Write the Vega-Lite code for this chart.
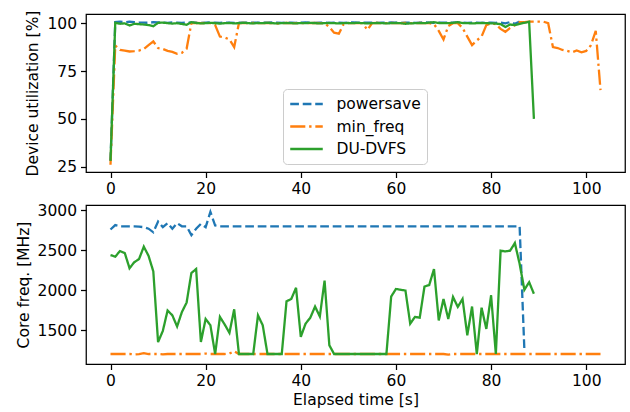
{
  "$schema": "https://vega.github.io/schema/vega-lite/v6.json",
  "padding": {"left": 15, "top": 9, "right": 4, "bottom": 5},
  "spacing": 33,
  "bounds": "flush",
  "datasets": {
    "util": [
      {"t":0,"powersave":28,"min_freq":26,"DU-DVFS":28},
      {"t":1,"powersave":100.6,"min_freq":88.3,"DU-DVFS":100.2},
      {"t":2,"powersave":100.8,"min_freq":86,"DU-DVFS":99.7},
      {"t":3,"powersave":100.5,"min_freq":85.7,"DU-DVFS":99.9},
      {"t":4,"powersave":100.8,"min_freq":85.2,"DU-DVFS":98.8},
      {"t":5,"powersave":100.6,"min_freq":85.4,"DU-DVFS":99.7},
      {"t":6,"powersave":100.4,"min_freq":85.7,"DU-DVFS":99.5},
      {"t":7,"powersave":100.3,"min_freq":86.5,"DU-DVFS":99.3},
      {"t":8,"powersave":100.2,"min_freq":88.5,"DU-DVFS":99},
      {"t":9,"powersave":100.5,"min_freq":90.5,"DU-DVFS":98.4},
      {"t":10,"powersave":100.4,"min_freq":87,"DU-DVFS":100.2},
      {"t":11,"powersave":100.3,"min_freq":86.5,"DU-DVFS":100.3},
      {"t":12,"powersave":100.2,"min_freq":85.5,"DU-DVFS":100},
      {"t":13,"powersave":100.4,"min_freq":85,"DU-DVFS":99.8},
      {"t":14,"powersave":100.3,"min_freq":84,"DU-DVFS":100},
      {"t":15,"powersave":100.2,"min_freq":84.5,"DU-DVFS":99.6},
      {"t":16,"powersave":100.3,"min_freq":86.6,"DU-DVFS":99.2},
      {"t":17,"powersave":100.4,"min_freq":100,"DU-DVFS":100.5},
      {"t":18,"powersave":100.3,"min_freq":100.2,"DU-DVFS":100.1},
      {"t":19,"powersave":100.2,"min_freq":100,"DU-DVFS":99.9},
      {"t":20,"powersave":100.3,"min_freq":100.1,"DU-DVFS":100},
      {"t":21,"powersave":100.4,"min_freq":100,"DU-DVFS":100.2},
      {"t":22,"powersave":100.3,"min_freq":99,"DU-DVFS":100},
      {"t":23,"powersave":100.2,"min_freq":93,"DU-DVFS":99.8},
      {"t":24,"powersave":100.3,"min_freq":92.5,"DU-DVFS":100},
      {"t":25,"powersave":100.3,"min_freq":91.5,"DU-DVFS":100.1},
      {"t":26,"powersave":100.2,"min_freq":87.5,"DU-DVFS":99.9},
      {"t":27,"powersave":100.3,"min_freq":100,"DU-DVFS":100},
      {"t":28,"powersave":100.3,"min_freq":100.2,"DU-DVFS":100.2},
      {"t":29,"powersave":100.2,"min_freq":100,"DU-DVFS":100},
      {"t":30,"powersave":100.3,"min_freq":100.1,"DU-DVFS":99.9},
      {"t":31,"powersave":100.3,"min_freq":100,"DU-DVFS":100.1},
      {"t":32,"powersave":100.2,"min_freq":100,"DU-DVFS":100},
      {"t":33,"powersave":100.3,"min_freq":100.2,"DU-DVFS":100.2},
      {"t":34,"powersave":100.4,"min_freq":100,"DU-DVFS":100},
      {"t":35,"powersave":100.3,"min_freq":99.8,"DU-DVFS":99.9},
      {"t":36,"powersave":100.2,"min_freq":100,"DU-DVFS":100},
      {"t":37,"powersave":100.3,"min_freq":100.1,"DU-DVFS":100.1},
      {"t":38,"powersave":100.3,"min_freq":100,"DU-DVFS":100},
      {"t":39,"powersave":100.2,"min_freq":100,"DU-DVFS":99.9},
      {"t":40,"powersave":100.3,"min_freq":100.1,"DU-DVFS":100.1},
      {"t":41,"powersave":100.4,"min_freq":100,"DU-DVFS":100},
      {"t":42,"powersave":100.3,"min_freq":100,"DU-DVFS":100.2},
      {"t":43,"powersave":100.2,"min_freq":100.1,"DU-DVFS":100},
      {"t":44,"powersave":100.3,"min_freq":100,"DU-DVFS":99.9},
      {"t":45,"powersave":100.3,"min_freq":100,"DU-DVFS":100},
      {"t":46,"powersave":100.2,"min_freq":98,"DU-DVFS":100.1},
      {"t":47,"powersave":100.3,"min_freq":95,"DU-DVFS":100},
      {"t":48,"powersave":100.3,"min_freq":94.5,"DU-DVFS":99.9},
      {"t":49,"powersave":100.2,"min_freq":99.5,"DU-DVFS":100},
      {"t":50,"powersave":100.3,"min_freq":100,"DU-DVFS":100.1},
      {"t":51,"powersave":100.4,"min_freq":100,"DU-DVFS":100},
      {"t":52,"powersave":100.3,"min_freq":100,"DU-DVFS":100.2},
      {"t":53,"powersave":100.2,"min_freq":100,"DU-DVFS":100},
      {"t":54,"powersave":100.3,"min_freq":96.5,"DU-DVFS":99.9},
      {"t":55,"powersave":100.3,"min_freq":100,"DU-DVFS":100},
      {"t":56,"powersave":100.2,"min_freq":100.1,"DU-DVFS":100.1},
      {"t":57,"powersave":100.3,"min_freq":100,"DU-DVFS":100},
      {"t":58,"powersave":100.3,"min_freq":100,"DU-DVFS":99.9},
      {"t":59,"powersave":100.4,"min_freq":100.1,"DU-DVFS":100},
      {"t":60,"powersave":100.3,"min_freq":100,"DU-DVFS":100.1},
      {"t":61,"powersave":100.2,"min_freq":100,"DU-DVFS":100},
      {"t":62,"powersave":100.3,"min_freq":100.1,"DU-DVFS":99.7},
      {"t":63,"powersave":100.3,"min_freq":100,"DU-DVFS":99.9},
      {"t":64,"powersave":100.2,"min_freq":100,"DU-DVFS":100},
      {"t":65,"powersave":100.3,"min_freq":100.1,"DU-DVFS":100.1},
      {"t":66,"powersave":100.4,"min_freq":100,"DU-DVFS":100},
      {"t":67,"powersave":100.3,"min_freq":100,"DU-DVFS":100.3},
      {"t":68,"powersave":100.2,"min_freq":99.5,"DU-DVFS":100.5},
      {"t":69,"powersave":100.3,"min_freq":96,"DU-DVFS":100.1},
      {"t":70,"powersave":100.3,"min_freq":91.5,"DU-DVFS":100},
      {"t":71,"powersave":100.2,"min_freq":98.5,"DU-DVFS":100},
      {"t":72,"powersave":100.3,"min_freq":100,"DU-DVFS":100.2},
      {"t":73,"powersave":100.4,"min_freq":100,"DU-DVFS":100.5},
      {"t":74,"powersave":100.3,"min_freq":97.5,"DU-DVFS":100.1},
      {"t":75,"powersave":100.2,"min_freq":93,"DU-DVFS":100},
      {"t":76,"powersave":100.3,"min_freq":88.5,"DU-DVFS":99.9},
      {"t":77,"powersave":100.3,"min_freq":91,"DU-DVFS":100},
      {"t":78,"powersave":100.2,"min_freq":93,"DU-DVFS":100.1},
      {"t":79,"powersave":100.3,"min_freq":99,"DU-DVFS":100},
      {"t":80,"powersave":100.3,"min_freq":100,"DU-DVFS":99.9},
      {"t":81,"powersave":100.2,"min_freq":99.5,"DU-DVFS":99.8},
      {"t":82,"powersave":100.3,"min_freq":97,"DU-DVFS":99.5},
      {"t":83,"powersave":99.9,"min_freq":95.5,"DU-DVFS":98},
      {"t":84,"powersave":100.6,"min_freq":97.5,"DU-DVFS":99.3},
      {"t":85,"powersave":99.7,"min_freq":99,"DU-DVFS":99},
      {"t":86,"powersave":100.8,"min_freq":100.5,"DU-DVFS":99.6},
      {"t":87,"min_freq":100.5,"DU-DVFS":100.2},
      {"t":88,"min_freq":100.8,"DU-DVFS":100.8},
      {"t":89,"min_freq":100.8,"DU-DVFS":50},
      {"t":90,"min_freq":100.8},
      {"t":91,"min_freq":100.8},
      {"t":92,"min_freq":100},
      {"t":93,"min_freq":87.5},
      {"t":94,"min_freq":87},
      {"t":95,"min_freq":86},
      {"t":96,"min_freq":85.5},
      {"t":97,"min_freq":84.8},
      {"t":98,"min_freq":85.7},
      {"t":99,"min_freq":84.8},
      {"t":100,"min_freq":85.5},
      {"t":101,"min_freq":88.5},
      {"t":102,"min_freq":96},
      {"t":103,"min_freq":65}
    ],
    "freq": [
      {"t":0,"powersave":2760,"min_freq":1200,"DU-DVFS":2440},
      {"t":1,"powersave":2815,"min_freq":1200,"DU-DVFS":2420},
      {"t":2,"powersave":2800,"min_freq":1200,"DU-DVFS":2490},
      {"t":3,"powersave":2800,"min_freq":1200,"DU-DVFS":2465},
      {"t":4,"powersave":2800,"min_freq":1200,"DU-DVFS":2275},
      {"t":5,"powersave":2800,"min_freq":1195,"DU-DVFS":2350},
      {"t":6,"powersave":2795,"min_freq":1200,"DU-DVFS":2390},
      {"t":7,"powersave":2790,"min_freq":1212,"DU-DVFS":2545},
      {"t":8,"powersave":2770,"min_freq":1200,"DU-DVFS":2430},
      {"t":9,"powersave":2725,"min_freq":1200,"DU-DVFS":2235},
      {"t":10,"powersave":2860,"min_freq":1200,"DU-DVFS":1350},
      {"t":11,"powersave":2790,"min_freq":1196,"DU-DVFS":1490},
      {"t":12,"powersave":2840,"min_freq":1200,"DU-DVFS":1745},
      {"t":13,"powersave":2770,"min_freq":1200,"DU-DVFS":1685},
      {"t":14,"powersave":2840,"min_freq":1200,"DU-DVFS":1545},
      {"t":15,"powersave":2800,"min_freq":1200,"DU-DVFS":1725},
      {"t":16,"powersave":2800,"min_freq":1200,"DU-DVFS":1845},
      {"t":17,"powersave":2690,"min_freq":1200,"DU-DVFS":2215},
      {"t":18,"powersave":2770,"min_freq":1200,"DU-DVFS":2265},
      {"t":19,"powersave":2830,"min_freq":1200,"DU-DVFS":1350},
      {"t":20,"powersave":2790,"min_freq":1205,"DU-DVFS":1640},
      {"t":21,"powersave":2980,"min_freq":1200,"DU-DVFS":1560},
      {"t":22,"powersave":2810,"min_freq":1200,"DU-DVFS":1200},
      {"t":23,"powersave":2800,"min_freq":1200,"DU-DVFS":1665},
      {"t":24,"powersave":2800,"min_freq":1200,"DU-DVFS":1570},
      {"t":25,"powersave":2800,"min_freq":1205,"DU-DVFS":1465},
      {"t":26,"powersave":2800,"min_freq":1235,"DU-DVFS":1760},
      {"t":27,"powersave":2800,"min_freq":1200,"DU-DVFS":1200},
      {"t":28,"powersave":2800,"min_freq":1200,"DU-DVFS":1200},
      {"t":29,"powersave":2800,"min_freq":1200,"DU-DVFS":1200},
      {"t":30,"powersave":2800,"min_freq":1200,"DU-DVFS":1200},
      {"t":31,"powersave":2800,"min_freq":1200,"DU-DVFS":1685},
      {"t":32,"powersave":2800,"min_freq":1200,"DU-DVFS":1560},
      {"t":33,"powersave":2800,"min_freq":1200,"DU-DVFS":1200},
      {"t":34,"powersave":2800,"min_freq":1200,"DU-DVFS":1200},
      {"t":35,"powersave":2800,"min_freq":1200,"DU-DVFS":1200},
      {"t":36,"powersave":2800,"min_freq":1200,"DU-DVFS":1200},
      {"t":37,"powersave":2800,"min_freq":1200,"DU-DVFS":1860},
      {"t":38,"powersave":2800,"min_freq":1200,"DU-DVFS":1890},
      {"t":39,"powersave":2800,"min_freq":1200,"DU-DVFS":2030},
      {"t":40,"powersave":2800,"min_freq":1200,"DU-DVFS":1415},
      {"t":41,"powersave":2800,"min_freq":1200,"DU-DVFS":1580},
      {"t":42,"powersave":2800,"min_freq":1200,"DU-DVFS":1655},
      {"t":43,"powersave":2800,"min_freq":1200,"DU-DVFS":1795},
      {"t":44,"powersave":2800,"min_freq":1200,"DU-DVFS":1670},
      {"t":45,"powersave":2800,"min_freq":1200,"DU-DVFS":2120},
      {"t":46,"powersave":2800,"min_freq":1200,"DU-DVFS":1310},
      {"t":47,"powersave":2800,"min_freq":1200,"DU-DVFS":1200},
      {"t":48,"powersave":2800,"min_freq":1200,"DU-DVFS":1200},
      {"t":49,"powersave":2800,"min_freq":1200,"DU-DVFS":1200},
      {"t":50,"powersave":2800,"min_freq":1200,"DU-DVFS":1200},
      {"t":51,"powersave":2800,"min_freq":1200,"DU-DVFS":1200},
      {"t":52,"powersave":2800,"min_freq":1200,"DU-DVFS":1200},
      {"t":53,"powersave":2800,"min_freq":1200,"DU-DVFS":1200},
      {"t":54,"powersave":2800,"min_freq":1200,"DU-DVFS":1200},
      {"t":55,"powersave":2800,"min_freq":1200,"DU-DVFS":1200},
      {"t":56,"powersave":2800,"min_freq":1200,"DU-DVFS":1200},
      {"t":57,"powersave":2800,"min_freq":1200,"DU-DVFS":1200},
      {"t":58,"powersave":2800,"min_freq":1200,"DU-DVFS":1200},
      {"t":59,"powersave":2800,"min_freq":1200,"DU-DVFS":1920},
      {"t":60,"powersave":2800,"min_freq":1200,"DU-DVFS":2015},
      {"t":61,"powersave":2800,"min_freq":1200,"DU-DVFS":2005},
      {"t":62,"powersave":2800,"min_freq":1200,"DU-DVFS":1995},
      {"t":63,"powersave":2800,"min_freq":1200,"DU-DVFS":1580},
      {"t":64,"powersave":2800,"min_freq":1200,"DU-DVFS":1665},
      {"t":65,"powersave":2800,"min_freq":1200,"DU-DVFS":1655},
      {"t":66,"powersave":2800,"min_freq":1200,"DU-DVFS":2045},
      {"t":67,"powersave":2800,"min_freq":1200,"DU-DVFS":2065},
      {"t":68,"powersave":2800,"min_freq":1200,"DU-DVFS":2265},
      {"t":69,"powersave":2800,"min_freq":1200,"DU-DVFS":1620},
      {"t":70,"powersave":2800,"min_freq":1200,"DU-DVFS":1890},
      {"t":71,"powersave":2800,"min_freq":1192,"DU-DVFS":1640},
      {"t":72,"powersave":2800,"min_freq":1200,"DU-DVFS":1915},
      {"t":73,"powersave":2800,"min_freq":1200,"DU-DVFS":1790},
      {"t":74,"powersave":2800,"min_freq":1200,"DU-DVFS":1890},
      {"t":75,"powersave":2800,"min_freq":1200,"DU-DVFS":1435},
      {"t":76,"powersave":2800,"min_freq":1200,"DU-DVFS":1795},
      {"t":77,"powersave":2800,"min_freq":1200,"DU-DVFS":1200},
      {"t":78,"powersave":2800,"min_freq":1200,"DU-DVFS":1780},
      {"t":79,"powersave":2800,"min_freq":1200,"DU-DVFS":1515},
      {"t":80,"powersave":2800,"min_freq":1200,"DU-DVFS":1935},
      {"t":81,"powersave":2800,"min_freq":1200,"DU-DVFS":1200},
      {"t":82,"powersave":2800,"min_freq":1200,"DU-DVFS":2495},
      {"t":83,"powersave":2800,"min_freq":1200,"DU-DVFS":2485},
      {"t":84,"powersave":2800,"min_freq":1200,"DU-DVFS":2495},
      {"t":85,"powersave":2800,"min_freq":1200,"DU-DVFS":2590},
      {"t":86,"powersave":2800,"min_freq":1200,"DU-DVFS":2330},
      {"t":87,"powersave":1250,"min_freq":1200,"DU-DVFS":2005},
      {"t":88,"min_freq":1200,"DU-DVFS":2100},
      {"t":89,"min_freq":1200,"DU-DVFS":1955},
      {"t":90,"min_freq":1200},
      {"t":91,"min_freq":1200},
      {"t":92,"min_freq":1200},
      {"t":93,"min_freq":1200},
      {"t":94,"min_freq":1200},
      {"t":95,"min_freq":1200},
      {"t":96,"min_freq":1200},
      {"t":97,"min_freq":1200},
      {"t":98,"min_freq":1200},
      {"t":99,"min_freq":1200},
      {"t":100,"min_freq":1200},
      {"t":101,"min_freq":1200},
      {"t":102,"min_freq":1200},
      {"t":103,"min_freq":1200}
    ]
  },
  "resolve": {"legend": {"color": "independent", "strokeDash": "independent"}},
  "vconcat": [
    {
      "width": 539,
      "height": 158,
      "data": {"name": "util"},
      "transform": [{"fold": ["powersave", "min_freq", "DU-DVFS"], "as": ["series", "v"]}],
      "mark": {"type": "line", "strokeWidth": 2.3},
      "encoding": {
        "x": {"field": "t", "type": "quantitative", "scale": {"domain": [-5.15, 108.15], "nice": false, "zero": false}, "axis": {"values": [0, 20, 40, 60, 80, 100], "title": null}},
        "y": {"field": "v", "type": "quantitative", "scale": {"domain": [22.2, 104.8], "nice": false, "zero": false}, "axis": {"values": [25, 50, 75, 100], "title": "Device utilization [%]"}},
        "color": {"field": "series", "type": "nominal", "scale": {"domain": ["powersave", "min_freq", "DU-DVFS"], "range": ["#1f77b4", "#ff7f0e", "#2ca02c"]}, "legend": {"title": null}},
        "strokeDash": {"field": "series", "type": "nominal", "scale": {"domain": ["powersave", "min_freq", "DU-DVFS"], "range": [[8.7, 3.8], [15.1, 3.8, 2.4, 3.8], [1, 0]]}, "legend": {"title": null}}
      }
    },
    {
      "width": 539,
      "height": 159,
      "data": {"name": "freq"},
      "transform": [{"fold": ["powersave", "min_freq", "DU-DVFS"], "as": ["series", "v"]}],
      "mark": {"type": "line", "strokeWidth": 2.3},
      "encoding": {
        "x": {"field": "t", "type": "quantitative", "scale": {"domain": [-5.15, 108.15], "nice": false, "zero": false}, "axis": {"values": [0, 20, 40, 60, 80, 100], "title": "Elapsed time [s]"}},
        "y": {"field": "v", "type": "quantitative", "scale": {"domain": [1075, 3067], "nice": false, "zero": false}, "axis": {"values": [1500, 2000, 2500, 3000], "format": "d", "title": "Core freq. [MHz]"}},
        "color": {"field": "series", "type": "nominal", "scale": {"domain": ["powersave", "min_freq", "DU-DVFS"], "range": ["#1f77b4", "#ff7f0e", "#2ca02c"]}, "legend": null},
        "strokeDash": {"field": "series", "type": "nominal", "scale": {"domain": ["powersave", "min_freq", "DU-DVFS"], "range": [[8.7, 3.8], [15.1, 3.8, 2.4, 3.8], [1, 0]]}, "legend": null}
      }
    }
  ],
  "config": {
    "font": "DejaVu Sans",
    "view": {"stroke": "black", "strokeWidth": 1.25},
    "axis": {"grid": false, "domain": false, "tickColor": "black", "tickWidth": 1.25, "tickSize": 5.5, "labelPadding": 4, "labelFontSize": 15.5, "labelColor": "black", "labelFont": "DejaVu Sans", "titleFont": "DejaVu Sans", "titleFontSize": 15.5, "titleFontWeight": "normal", "titleColor": "black", "titlePadding": 6},
    "axisX": {"titlePadding": 3},
    "legend": {"orient": "none", "legendX": 197, "legendY": 75, "direction": "vertical", "symbolType": "M-2.1,0H2.1", "symbolSize": 240, "symbolStrokeWidth": 2.3, "symbolOffset": 8.5, "labelOffset": 21, "labelFontSize": 15.5, "labelFont": "DejaVu Sans", "labelColor": "black", "rowPadding": 4.5, "padding": 6, "strokeColor": "#cccccc", "fillColor": "rgba(255,255,255,0.8)", "cornerRadius": 4}
  }
}
